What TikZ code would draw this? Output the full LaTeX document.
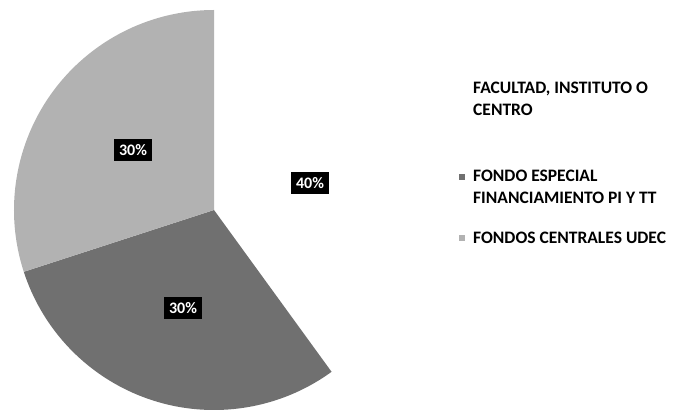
\documentclass[tikz,border=0pt]{standalone}
\usepackage{fontspec}
\setmainfont{Carlito}
\definecolor{darkslice}{RGB}{112,112,112}
\definecolor{lightslice}{RGB}{178,178,178}

\begin{document}
\begin{tikzpicture}[x=1pt,y=1pt,
        pct/.style={fill=black,text=white,font=\bfseries\fontsize{16}{16}\selectfont,inner xsep=5pt,minimum height=22pt},
        entry/.style={anchor=base west,align=left,font=\bfseries\fontsize{17.5}{22}\selectfont,inner sep=0pt},
        key/.style={minimum size=6pt,inner sep=0pt},
      ]
      \useasboundingbox (0,0) rectangle (674,412);
      \coordinate (O) at (214,202);
%
      \fill[white] (O) -- ++(90:200) arc (90:-54:200) -- cycle;
      \fill[darkslice] (O) -- ++(-54:200) arc (-54:-162:200) -- cycle;
      \fill[lightslice] (O) -- ++(198:200) arc (198:90:200) -- cycle;
%
      \node[pct] at (133,262) (Lcentral) {30\%};
      \node[pct] at (183,104) (Lespecial) {30\%};
      \node[pct] at (310,229) (Lfacultad) {40\%};
%
      \node[entry] at (473,296) (Tfacultad) {FACULTAD, INSTITUTO O\\CENTRO};
      \node[entry] at (473,208) (Tespecial) {FONDO ESPECIAL\\FINANCIAMIENTO PI Y TT};
      \node[entry] at (473,168) (Tcentral) {FONDOS CENTRALES UDEC};
%
      \node[key,fill=white] at (462,324) (Kfacultad) {};
      \node[key,fill=darkslice] at (462,235) (Kespecial) {};
      \node[key,fill=lightslice] at (462,174) (Kcentral) {};
    \end{tikzpicture}
\end{document}
